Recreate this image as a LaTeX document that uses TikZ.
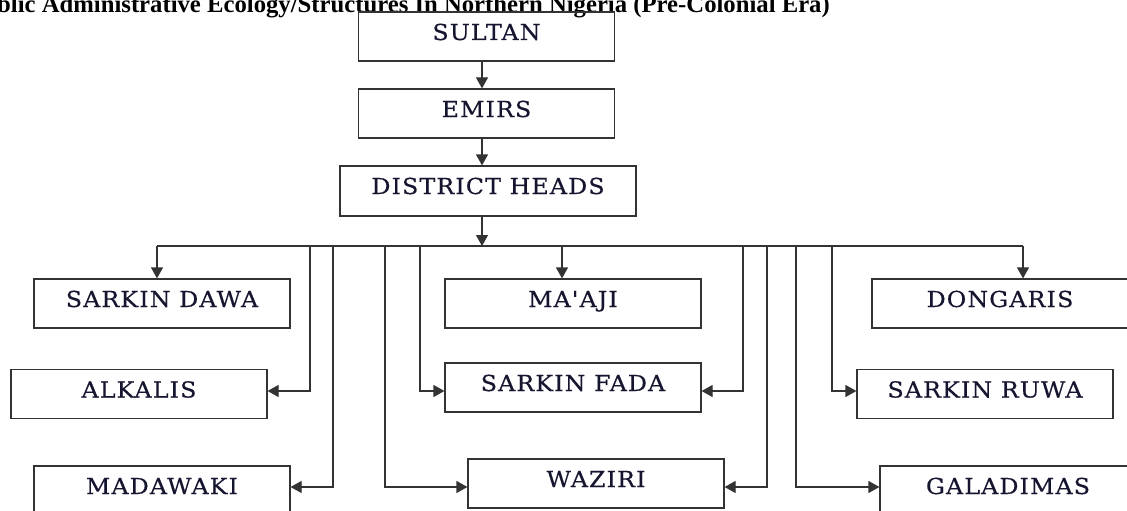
\documentclass[tikz,border=0pt]{standalone}
\usepackage{fontspec}
\setmainfont{Liberation Serif}
\newfontfamily\boxfont[LetterSpace=5,FakeStretch=1.08,FakeBold=0.4]{DejaVu Serif}
\usetikzlibrary{arrows.meta}
\definecolor{linec}{HTML}{333333}
\definecolor{txtc}{HTML}{151530}
\tikzset{
  orgbox/.style={draw=linec, line width=1.2pt, inner sep=0pt, minimum width=256pt,
    text height=28pt, text depth=21pt, align=center, text=txtc,
    font=\boxfont\fontsize{22}{22}\selectfont},
  conn/.style={draw=linec, line width=1.2pt},
  arr/.style={conn, -{Triangle[length=11pt,width=12pt]}}
}
\begin{document}
\begin{tikzpicture}[x=1pt,y=-1pt]
\useasboundingbox (0,0) rectangle (1127,511);
\clip (0,0) rectangle (1127,511);
\node[anchor=base east, font=\bfseries\fontsize{24.7}{25}\selectfont, inner sep=0pt] (title) at (830,13)
  {blic Administrative Ecology/Structures In Northern Nigeria (Pre-Colonial Era)};
% top chain
\node[orgbox] (sultan) at (486.5,36.5) {SULTAN};
\node[orgbox] (emirs) at (486.5,113.5) {EMIRS};
\node[orgbox, minimum width=296pt, text depth=22pt] (dh) at (488,191) {DISTRICT HEADS};
% row 1
\node[orgbox] (dawa) at (162,303.5) {SARKIN DAWA};
\node[orgbox] (maaji) at (573,303.5) {MA'AJI};
\node[orgbox] (dongaris) at (1000,303.5) {DONGARIS};
% row 2
\node[orgbox] (alkalis) at (139,394) {ALKALIS};
\node[orgbox] (fada) at (573,387.5) {SARKIN FADA};
\node[orgbox] (ruwa) at (985,394) {SARKIN RUWA};
% row 3
\node[orgbox] (madawaki) at (162,490.5) {MADAWAKI};
\node[orgbox] (waziri) at (596,483.5) {WAZIRI};
\node[orgbox] (galadimas) at (1008,490.5) {GALADIMAS};
% helper coordinates
\coordinate (ax) at (482,0);
\coordinate (busL) at (157,246);
\coordinate (busR) at (1023,246);
\coordinate (row2) at (0,391);
\coordinate (row3) at (0,487);
% chain arrows
\draw[arr] (sultan.south -| ax) -- (emirs.north -| ax);
\draw[arr] (emirs.south -| ax) -- (dh.north -| ax);
\draw[arr] (dh.south -| ax) -- (busL -| ax);
% bus
\draw[conn] (busL) -- (busR);
% branches
\draw[arr] (busL) -- (dawa.north -| busL);
\draw[arr] (busL -| 310,0) |- (alkalis.east |- row2);
\draw[arr] (busL -| 333,0) |- (madawaki.east |- row3);
\draw[arr] (busL -| 385,0) |- (waziri.west |- row3);
\draw[arr] (busL -| 420,0) |- (fada.west |- row2);
\draw[arr] (busL -| 562,0) -- (maaji.north -| 562,0);
\draw[arr] (busL -| 743,0) |- (fada.east |- row2);
\draw[arr] (busL -| 767,0) |- (waziri.east |- row3);
\draw[arr] (busL -| 796,0) |- (galadimas.west |- row3);
\draw[arr] (busL -| 832,0) |- (ruwa.west |- row2);
\draw[arr] (busR) -- (dongaris.north -| busR);
\end{tikzpicture}
\end{document}
